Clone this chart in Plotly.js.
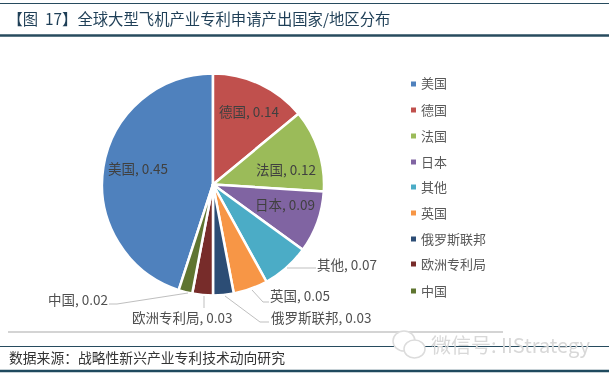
<!DOCTYPE html>
<html><head><meta charset="utf-8">
<script src="https://cdn.plot.ly/plotly-3.0.1.min.js"></script>
<style>html,body{margin:0;padding:0;background:#fff}#c{width:609px;height:376px;filter:blur(0.35px)}</style></head>
<body><div id="c"></div>
<script>
const categories=['美国','德国','法国','日本','其他','英国','俄罗斯联邦','欧洲专利局','中国'];
const shares=[0.45,0.14,0.12,0.09,0.07,0.05,0.03,0.03,0.02];
const colors=['#4f81bd','#c0504d','#9bbb59','#8064a2','#4bacc6','#f79646','#2c4d75','#772c2a','#5f7530'];
const labelX=[138,249,286,285,347,300,321,182,78];
const labelY=[168,111,169,204,264,295,317,317,299];
const legendY=[83,109,135,161,186,212,238,263,290];
const legendMarkY=[84,110,136,162,187,213,239,264,291];
const leaders=[null,null,null,null,
 [[287,268],[316,268]],
 [[252,290],[263,302],[269,302]],
 [[225,296],[260,322],[269,322]],
 [[204,296],[204,308]],
 [[188,293],[117,304],[109,304]]];
const titleText='【图 \u00a017】全球大型飞机产业专利申请产出国家/地区分布';
const sourceText='数据来源：战略性新兴产业专利技术动向研究';
const markText='微信号: IIStrategy';
const W=609,H=376;
const FONT='"Noto Sans CJK SC","Noto Sans",sans-serif';
const px=x=>x/W, py=y=>1-y/H;
const line=(x0,y0,x1,y1,c,w)=>({type:'line',xref:'paper',yref:'paper',x0:px(x0),y0:py(y0),x1:px(x1),y1:py(y1),line:{color:c,width:w}});
const ell=(x0,y0,x1,y1)=>({type:'circle',xref:'paper',yref:'paper',x0:px(x0),x1:px(x1),y0:py(y1),y1:py(y0),fillcolor:'#fff',line:{color:'#dcdcdc',width:1.5}});
const shapes=[
 line(0,3.5,W,3.5,'#274b5e',1),
 line(0,35.5,W,35.5,'#274b5e',2.5),
 line(8,332,503,332,'#d4d4d4',2),
 line(0,346.5,W,346.5,'#274b5e',1),
 line(0,371,W,371,'#1f4a5e',2.5)
];
leaders.forEach(p=>{if(!p)return;for(let i=0;i<p.length-1;i++)shapes.push(line(p[i][0],p[i][1],p[i+1][0],p[i+1][1],'#bfbfbf',1));});
categories.forEach((c,i)=>{shapes.push({type:'rect',xref:'paper',yref:'paper',x0:px(411),x1:px(416),y0:py(legendMarkY[i]-2.5),y1:py(legendMarkY[i]+2.5),fillcolor:colors[i],line:{width:0}});});
shapes.push(ell(393,331,415,351),ell(404,340,425,358));
const ann=(x,y,text,size,color,anchor)=>({xref:'paper',yref:'paper',x:px(x),y:py(y),text,showarrow:false,xanchor:anchor||'center',yanchor:'middle',font:{family:FONT,size,color}});
const annotations=[];
categories.forEach((c,i)=>{
 annotations.push(ann(labelX[i],labelY[i],c+', '+shares[i].toFixed(2),13.5,i<4?'#404040':'#505050'));
 annotations.push(ann(419,legendY[i],c,13,'#595959','left'));
});
annotations.push(ann(7,357,sourceText,13.8,'#333333','left'));
annotations.push(ann(429,344,markText,20,'#d8d8d8','left'));
Plotly.newPlot('c',[{type:'pie',labels:categories,values:shares,sort:false,direction:'clockwise',rotation:198,
 marker:{colors:colors,line:{color:'#fff',width:2.5}},textinfo:'none',hoverinfo:'label+value',showlegend:false,
 domain:{x:[102/W,324/W],y:[1-295.5/H,1-73.5/H]}}],
 {width:W,height:H,margin:{l:0,r:0,t:0,b:0},paper_bgcolor:'#fff',showlegend:false,
  title:{text:titleText,x:7.5/W,xanchor:'left',y:1-19.5/H,yanchor:'middle',font:{family:FONT,size:15.35,color:'#1f3f57'}},
  shapes,annotations},{displayModeBar:false,staticPlot:true});
</script></body></html>
